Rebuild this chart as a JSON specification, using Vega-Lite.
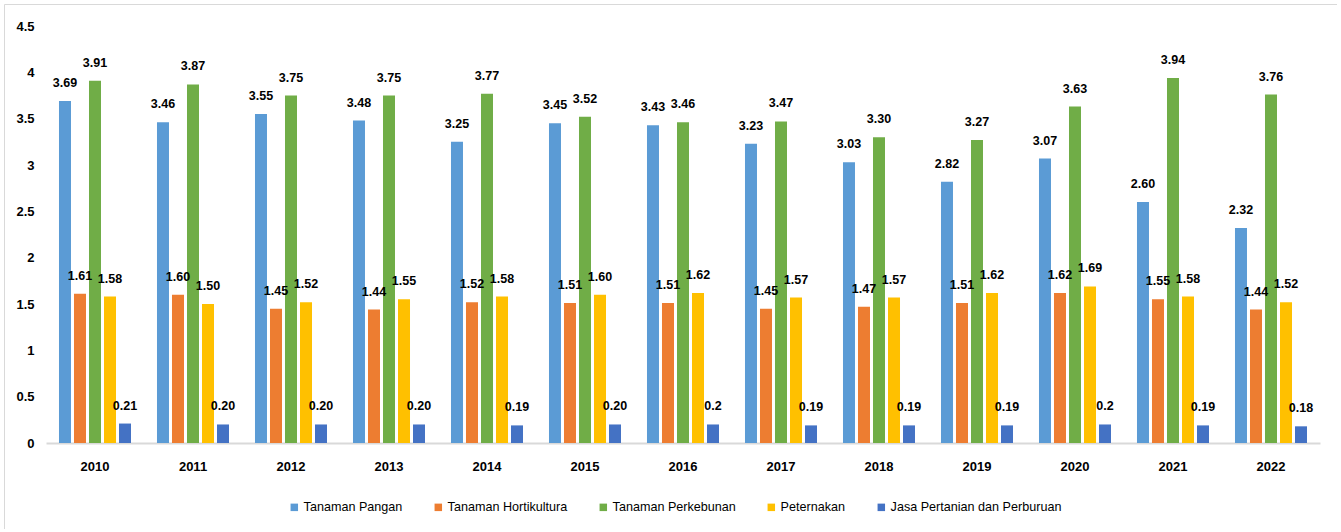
{
  "$schema": "https://vega.github.io/schema/vega-lite/v6.json",
  "width": 1333,
  "height": 525,
  "autosize": {"type": "none"},
  "padding": {"left": 4, "top": 4, "right": 0, "bottom": 0},
  "background": "white",
  "config": {
    "view": {"stroke": "#d9d9d9", "strokeWidth": 1},
    "font": "Liberation Sans, Arial, sans-serif"
  },
  "data": {
    "values": [
      {"year": "2010", "series": "Tanaman Pangan", "value": 3.69, "label": "3.69"},
      {"year": "2010", "series": "Tanaman Hortikultura", "value": 1.61, "label": "1.61"},
      {"year": "2010", "series": "Tanaman Perkebunan", "value": 3.91, "label": "3.91"},
      {"year": "2010", "series": "Peternakan", "value": 1.58, "label": "1.58"},
      {"year": "2010", "series": "Jasa Pertanian dan Perburuan", "value": 0.21, "label": "0.21"},
      {"year": "2011", "series": "Tanaman Pangan", "value": 3.46, "label": "3.46"},
      {"year": "2011", "series": "Tanaman Hortikultura", "value": 1.60, "label": "1.60"},
      {"year": "2011", "series": "Tanaman Perkebunan", "value": 3.87, "label": "3.87"},
      {"year": "2011", "series": "Peternakan", "value": 1.50, "label": "1.50"},
      {"year": "2011", "series": "Jasa Pertanian dan Perburuan", "value": 0.20, "label": "0.20"},
      {"year": "2012", "series": "Tanaman Pangan", "value": 3.55, "label": "3.55"},
      {"year": "2012", "series": "Tanaman Hortikultura", "value": 1.45, "label": "1.45"},
      {"year": "2012", "series": "Tanaman Perkebunan", "value": 3.75, "label": "3.75"},
      {"year": "2012", "series": "Peternakan", "value": 1.52, "label": "1.52"},
      {"year": "2012", "series": "Jasa Pertanian dan Perburuan", "value": 0.20, "label": "0.20"},
      {"year": "2013", "series": "Tanaman Pangan", "value": 3.48, "label": "3.48"},
      {"year": "2013", "series": "Tanaman Hortikultura", "value": 1.44, "label": "1.44"},
      {"year": "2013", "series": "Tanaman Perkebunan", "value": 3.75, "label": "3.75"},
      {"year": "2013", "series": "Peternakan", "value": 1.55, "label": "1.55"},
      {"year": "2013", "series": "Jasa Pertanian dan Perburuan", "value": 0.20, "label": "0.20"},
      {"year": "2014", "series": "Tanaman Pangan", "value": 3.25, "label": "3.25"},
      {"year": "2014", "series": "Tanaman Hortikultura", "value": 1.52, "label": "1.52"},
      {"year": "2014", "series": "Tanaman Perkebunan", "value": 3.77, "label": "3.77"},
      {"year": "2014", "series": "Peternakan", "value": 1.58, "label": "1.58"},
      {"year": "2014", "series": "Jasa Pertanian dan Perburuan", "value": 0.19, "label": "0.19"},
      {"year": "2015", "series": "Tanaman Pangan", "value": 3.45, "label": "3.45"},
      {"year": "2015", "series": "Tanaman Hortikultura", "value": 1.51, "label": "1.51"},
      {"year": "2015", "series": "Tanaman Perkebunan", "value": 3.52, "label": "3.52"},
      {"year": "2015", "series": "Peternakan", "value": 1.60, "label": "1.60"},
      {"year": "2015", "series": "Jasa Pertanian dan Perburuan", "value": 0.20, "label": "0.20"},
      {"year": "2016", "series": "Tanaman Pangan", "value": 3.43, "label": "3.43"},
      {"year": "2016", "series": "Tanaman Hortikultura", "value": 1.51, "label": "1.51"},
      {"year": "2016", "series": "Tanaman Perkebunan", "value": 3.46, "label": "3.46"},
      {"year": "2016", "series": "Peternakan", "value": 1.62, "label": "1.62"},
      {"year": "2016", "series": "Jasa Pertanian dan Perburuan", "value": 0.2, "label": "0.2"},
      {"year": "2017", "series": "Tanaman Pangan", "value": 3.23, "label": "3.23"},
      {"year": "2017", "series": "Tanaman Hortikultura", "value": 1.45, "label": "1.45"},
      {"year": "2017", "series": "Tanaman Perkebunan", "value": 3.47, "label": "3.47"},
      {"year": "2017", "series": "Peternakan", "value": 1.57, "label": "1.57"},
      {"year": "2017", "series": "Jasa Pertanian dan Perburuan", "value": 0.19, "label": "0.19"},
      {"year": "2018", "series": "Tanaman Pangan", "value": 3.03, "label": "3.03"},
      {"year": "2018", "series": "Tanaman Hortikultura", "value": 1.47, "label": "1.47"},
      {"year": "2018", "series": "Tanaman Perkebunan", "value": 3.30, "label": "3.30"},
      {"year": "2018", "series": "Peternakan", "value": 1.57, "label": "1.57"},
      {"year": "2018", "series": "Jasa Pertanian dan Perburuan", "value": 0.19, "label": "0.19"},
      {"year": "2019", "series": "Tanaman Pangan", "value": 2.82, "label": "2.82"},
      {"year": "2019", "series": "Tanaman Hortikultura", "value": 1.51, "label": "1.51"},
      {"year": "2019", "series": "Tanaman Perkebunan", "value": 3.27, "label": "3.27"},
      {"year": "2019", "series": "Peternakan", "value": 1.62, "label": "1.62"},
      {"year": "2019", "series": "Jasa Pertanian dan Perburuan", "value": 0.19, "label": "0.19"},
      {"year": "2020", "series": "Tanaman Pangan", "value": 3.07, "label": "3.07"},
      {"year": "2020", "series": "Tanaman Hortikultura", "value": 1.62, "label": "1.62"},
      {"year": "2020", "series": "Tanaman Perkebunan", "value": 3.63, "label": "3.63"},
      {"year": "2020", "series": "Peternakan", "value": 1.69, "label": "1.69"},
      {"year": "2020", "series": "Jasa Pertanian dan Perburuan", "value": 0.2, "label": "0.2"},
      {"year": "2021", "series": "Tanaman Pangan", "value": 2.60, "label": "2.60"},
      {"year": "2021", "series": "Tanaman Hortikultura", "value": 1.55, "label": "1.55"},
      {"year": "2021", "series": "Tanaman Perkebunan", "value": 3.94, "label": "3.94"},
      {"year": "2021", "series": "Peternakan", "value": 1.58, "label": "1.58"},
      {"year": "2021", "series": "Jasa Pertanian dan Perburuan", "value": 0.19, "label": "0.19"},
      {"year": "2022", "series": "Tanaman Pangan", "value": 2.32, "label": "2.32"},
      {"year": "2022", "series": "Tanaman Hortikultura", "value": 1.44, "label": "1.44"},
      {"year": "2022", "series": "Tanaman Perkebunan", "value": 3.76, "label": "3.76"},
      {"year": "2022", "series": "Peternakan", "value": 1.52, "label": "1.52"},
      {"year": "2022", "series": "Jasa Pertanian dan Perburuan", "value": 0.18, "label": "0.18"}
    ]
  },
  "encoding": {
    "x": {
      "field": "year",
      "type": "nominal",
      "scale": {"range": [42, 1316], "paddingInner": 0.265, "paddingOuter": 0.1325},
      "axis": {
        "title": null,
        "orient": "bottom",
        "offset": -86,
        "labelAngle": 0,
        "ticks": false,
        "tickSize": 0,
        "domainColor": "#d9d9d9",
        "domainWidth": 2,
        "labelPadding": 17,
        "labelFontSize": 13,
        "labelFontWeight": "bold",
        "labelColor": "#000000",
        "labelBaseline": "top"
      }
    },
    "xOffset": {
      "field": "series",
      "type": "nominal",
      "sort": ["Tanaman Pangan", "Tanaman Hortikultura", "Tanaman Perkebunan", "Peternakan", "Jasa Pertanian dan Perburuan"],
      "scale": {"paddingInner": 0.2, "paddingOuter": 0}
    },
    "y": {
      "field": "value",
      "type": "quantitative",
      "scale": {"domain": [0, 4.5], "range": [439, 22], "nice": false, "zero": true},
      "axis": {
        "title": null,
        "values": [0, 0.5, 1, 1.5, 2, 2.5, 3, 3.5, 4, 4.5],
        "format": "~g",
        "offset": -38,
        "labelPadding": 8,
        "domain": false,
        "ticks": false,
        "tickSize": 0,
        "grid": false,
        "labelFontSize": 13,
        "labelFontWeight": "bold",
        "labelColor": "#000000"
      }
    }
  },
  "layer": [
    {
      "mark": {"type": "bar"},
      "encoding": {
        "color": {
          "field": "series",
          "type": "nominal",
          "sort": ["Tanaman Pangan", "Tanaman Hortikultura", "Tanaman Perkebunan", "Peternakan", "Jasa Pertanian dan Perburuan"],
          "scale": {
            "domain": ["Tanaman Pangan", "Tanaman Hortikultura", "Tanaman Perkebunan", "Peternakan", "Jasa Pertanian dan Perburuan"],
            "range": ["#5b9bd5", "#ed7d31", "#70ad47", "#ffc000", "#4472c4"]
          },
          "legend": {
            "title": null,
            "orient": "none",
            "direction": "horizontal",
            "legendX": 284,
            "legendY": 497,
            "symbolType": "square",
            "symbolSize": 56,
            "symbolStrokeWidth": 0,
            "labelFontSize": 12.6,
            "labelColor": "#000000",
            "labelOffset": 3,
            "columnPadding": 29,
            "labelLimit": 400
          }
        }
      }
    },
    {
      "mark": {"type": "text", "baseline": "middle", "dy": -18, "fontSize": 12.5, "fontWeight": "bold", "color": "#000000"},
      "encoding": {
        "text": {"field": "label", "type": "nominal"}
      }
    }
  ]
}
